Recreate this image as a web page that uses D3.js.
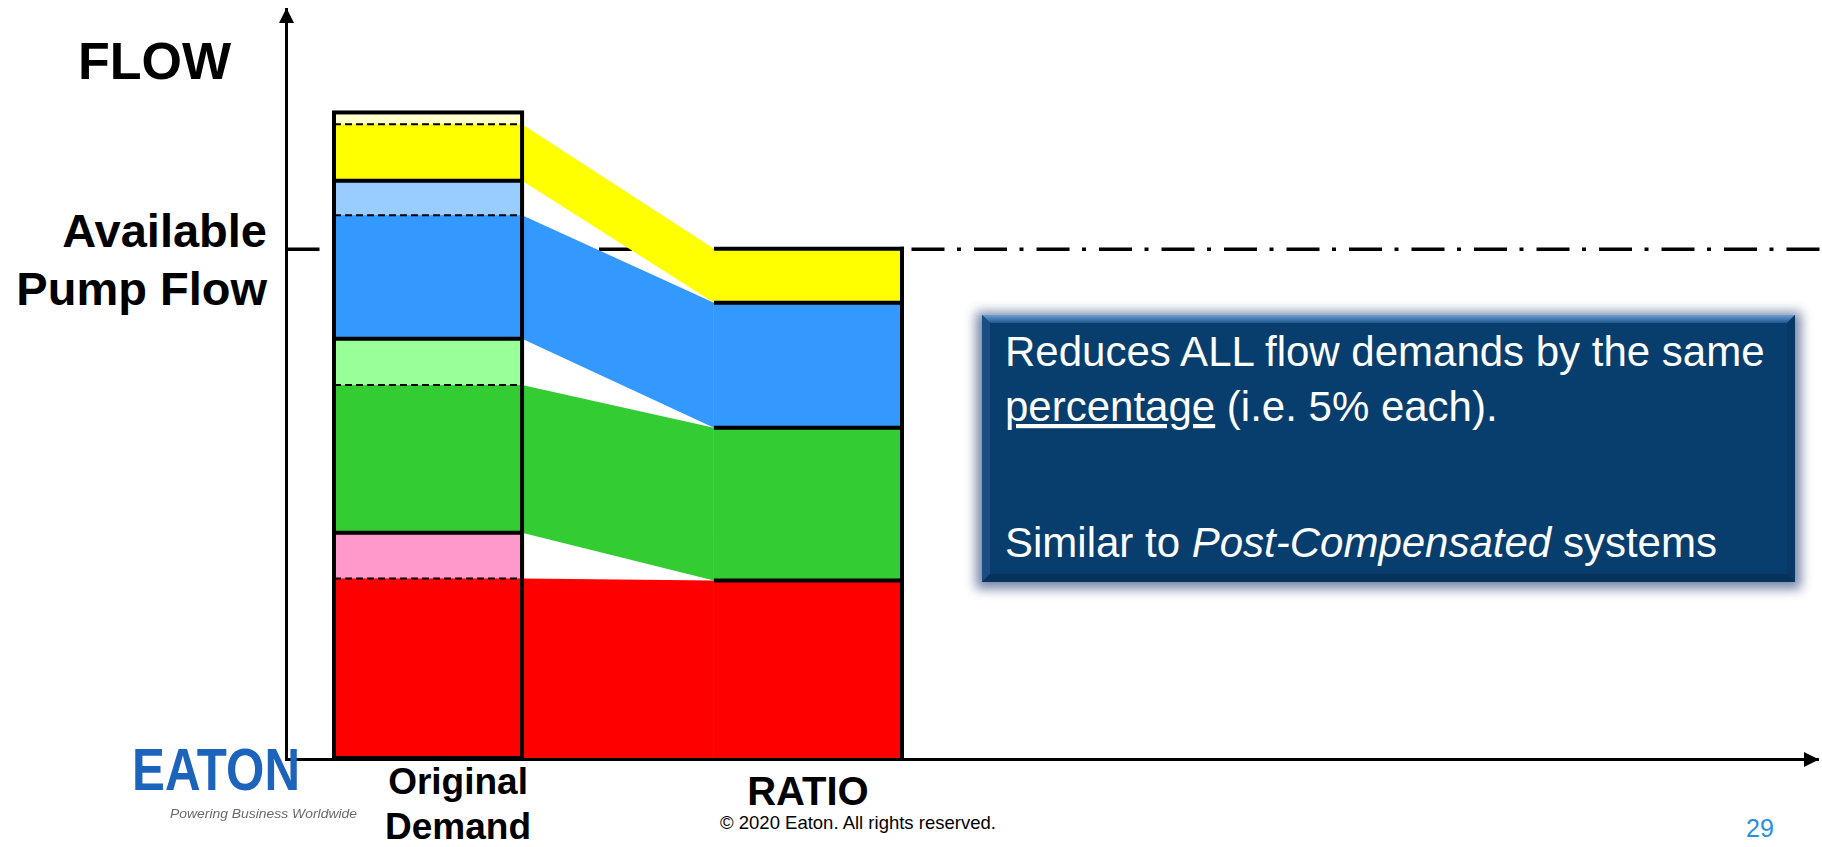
<!DOCTYPE html>
<html>
<head>
<meta charset="utf-8">
<script src="https://cdn.jsdelivr.net/npm/d3@7/dist/d3.min.js"></script>
<style>
  html, body { margin: 0; padding: 0; background: #ffffff; }
  svg { display: block; }
  text { font-family: "Liberation Sans", Arial, sans-serif; }
</style>
</head>
<body>
<svg id="chart" width="1822" height="847"></svg>
<script>
// Flow demands, stacked bottom-up: red, green, blue, yellow functions
const functions = ["Function A", "Function B", "Function C", "Function D"];
const columns = ["Original Demand", "RATIO"];
// Full original demand per function (flow units; available pump flow = 100)
const originalDemand = [44.3, 38.1, 31.1, 13.4];
// Part of each original demand that is carried over (below the dashed line)
const retainedDemand = [35.3, 29.0, 24.3, 11.1];
// Flow each function receives after ratio reduction
const ratioDemand = [34.9, 30.0, 24.6, 10.6];
const pumpFlow = 100;
const strongColors = ["#FF0000", "#33CC33", "#3399FF", "#FFFF00"];
const lightColors = ["#FF99CC", "#99FF99", "#99CCFF", "#FFFFCC"];
const pumpLabel = ["Available", "Pump Flow"];
const boxLines = [
  [{t: "Reduces ALL flow demands by the same"}],
  [{t: "percentage", u: true}, {t: " (i.e. 5% each)."}],
  [{t: "Similar to "}, {t: "Post-Compensated", i: true}, {t: " systems"}]
];

const svg = d3.select("#chart");
const axisX = 286.5, baseY = 758;

const y = d3.scaleLinear().domain([0, pumpFlow]).range([baseY, 249.3]);
const x = d3.scaleBand().domain(columns).range([334, 902]).paddingInner(0.505).paddingOuter(0);
const bw = x.bandwidth();

// cumulative bases
const origBase = [], ratioBase = [];
originalDemand.reduce((acc, v, i) => { origBase[i] = acc; return acc + v; }, 0);
ratioDemand.reduce((acc, v, i) => { ratioBase[i] = acc; return acc + v; }, 0);
const origTotal = d3.sum(originalDemand);

const defs = svg.append("defs");
defs.append("marker").attr("id", "arrow").attr("viewBox", "0 0 10 10")
  .attr("refX", 10).attr("refY", 5).attr("markerWidth", 5).attr("markerHeight", 5)
  .attr("markerUnits", "strokeWidth").attr("orient", "auto")
  .append("path").attr("d", "M0,0 L10,5 L0,10 Z").attr("fill", "#000");
const shadow = defs.append("filter").attr("id", "boxShadow")
  .attr("x", "-10%").attr("y", "-20%").attr("width", "120%").attr("height", "140%");
shadow.append("feGaussianBlur").attr("stdDeviation", 6);
const logoBlur = defs.append("filter").attr("id", "soft");
logoBlur.append("feGaussianBlur").attr("stdDeviation", 0.7);
const topBevel = defs.append("linearGradient").attr("id", "topBevel")
  .attr("x1", 0).attr("y1", 0).attr("x2", 0).attr("y2", 1);
topBevel.append("stop").attr("offset", 0).attr("stop-color", "#6C9FD0");
topBevel.append("stop").attr("offset", 1).attr("stop-color", "#1F5890");

// Available pump flow reference line (dash-dot), behind the bars
svg.append("line")
  .attr("x1", axisX).attr("x2", 1822)
  .attr("y1", y(pumpFlow)).attr("y2", y(pumpFlow))
  .attr("stroke", "#000").attr("stroke-width", 3.5)
  .attr("stroke-dasharray", "33 12.5 4 13");

// Flow bands from the retained part of each original demand to the ratio column
const band = d3.area().x(d => d.x).y0(d => d.y0).y1(d => d.y1);
const x0 = x(columns[0]) + bw, x1 = x(columns[1]);
svg.append("g").selectAll("path").data(functions).join("path")
  .attr("d", (f, i) => band([
    {x: x0, y0: y(origBase[i]), y1: y(origBase[i] + retainedDemand[i])},
    {x: x1, y0: y(ratioBase[i]), y1: y(ratioBase[i] + ratioDemand[i])}
  ]))
  .attr("fill", (f, i) => strongColors[i]);

// Original demand column
const orig = svg.append("g");
orig.selectAll("rect.light").data(functions).join("rect").attr("class", "light")
  .attr("x", x(columns[0])).attr("width", bw)
  .attr("y", (f, i) => y(origBase[i] + originalDemand[i]))
  .attr("height", (f, i) => y(origBase[i]) - y(origBase[i] + originalDemand[i]))
  .attr("fill", (f, i) => lightColors[i]);
orig.selectAll("rect.strong").data(functions).join("rect").attr("class", "strong")
  .attr("x", x(columns[0])).attr("width", bw)
  .attr("y", (f, i) => y(origBase[i] + retainedDemand[i]))
  .attr("height", (f, i) => y(origBase[i]) - y(origBase[i] + retainedDemand[i]))
  .attr("fill", (f, i) => strongColors[i]);
orig.selectAll("line.dash").data(functions).join("line").attr("class", "dash")
  .attr("x1", x(columns[0])).attr("x2", x(columns[0]) + bw)
  .attr("y1", (f, i) => y(origBase[i] + retainedDemand[i]))
  .attr("y2", (f, i) => y(origBase[i] + retainedDemand[i]))
  .attr("stroke", "#000").attr("stroke-width", 2).attr("stroke-dasharray", "7 4");
orig.selectAll("line.div").data(functions.slice(1)).join("line").attr("class", "div")
  .attr("x1", x(columns[0])).attr("x2", x(columns[0]) + bw)
  .attr("y1", (f, i) => y(origBase[i + 1])).attr("y2", (f, i) => y(origBase[i + 1]))
  .attr("stroke", "#000").attr("stroke-width", 4);
orig.append("rect")
  .attr("x", x(columns[0])).attr("width", bw)
  .attr("y", y(origTotal)).attr("height", y(0) - y(origTotal))
  .attr("fill", "none").attr("stroke", "#000").attr("stroke-width", 4);

// Ratio column
const ratio = svg.append("g");
ratio.selectAll("rect").data(functions).join("rect")
  .attr("x", x(columns[1])).attr("width", bw)
  .attr("y", (f, i) => y(ratioBase[i] + ratioDemand[i]))
  .attr("height", (f, i) => y(ratioBase[i]) - y(ratioBase[i] + ratioDemand[i]))
  .attr("fill", (f, i) => strongColors[i]);
ratio.selectAll("line.div").data(functions).join("line").attr("class", "div")
  .attr("x1", x(columns[1])).attr("x2", x(columns[1]) + bw + 2)
  .attr("y1", (f, i) => y(ratioBase[i] + ratioDemand[i]))
  .attr("y2", (f, i) => y(ratioBase[i] + ratioDemand[i]))
  .attr("stroke", "#000").attr("stroke-width", 4);
ratio.append("line")
  .attr("x1", x(columns[1]) + bw).attr("x2", x(columns[1]) + bw)
  .attr("y1", y(d3.sum(ratioDemand)) - 2).attr("y2", y(0))
  .attr("stroke", "#000").attr("stroke-width", 4);

// Axes with arrowheads
svg.append("line").attr("x1", axisX).attr("x2", axisX).attr("y1", baseY + 1.5).attr("y2", 8)
  .attr("stroke", "#000").attr("stroke-width", 3).attr("marker-end", "url(#arrow)");
svg.append("line").attr("x1", axisX - 1.5).attr("x2", 1819).attr("y1", baseY + 1.5).attr("y2", baseY + 1.5)
  .attr("stroke", "#000").attr("stroke-width", 3).attr("marker-end", "url(#arrow)");

// Axis titles
svg.append("text").attr("x", 78).attr("y", 79)
  .attr("font-size", 52).attr("font-weight", "bold").text("FLOW");
svg.append("text").attr("text-anchor", "end").attr("font-size", 47).attr("font-weight", "bold")
  .selectAll("tspan").data(pumpLabel).join("tspan")
  .attr("x", 267).attr("y", (d, i) => y(pumpFlow) - 2 + i * 58).text(d => d);

// Column labels
const colLabel = svg.append("g").attr("font-weight", "bold").attr("text-anchor", "middle");
colLabel.append("text").attr("font-size", 37)
  .selectAll("tspan").data(columns[0].split(" ")).join("tspan")
  .attr("x", x(columns[0]) + bw / 2 + 30).attr("y", (d, i) => 794 + i * 45).text(d => d);
colLabel.append("text").attr("font-size", 40)
  .attr("x", x(columns[1]) + bw / 2).attr("y", 805).text(columns[1]);

// Explanation box
const box = {x: 982, y: 315, w: 813, h: 267, b: 8};
const bx = svg.append("g");
bx.append("rect").attr("x", box.x - 6).attr("y", box.y - 3).attr("width", box.w + 12).attr("height", box.h + 10)
  .attr("fill", "#5E7199").attr("opacity", 0.85).attr("filter", "url(#boxShadow)");
bx.append("rect").attr("x", box.x).attr("y", box.y).attr("width", box.w).attr("height", box.h).attr("fill", "#073E6D");
const L = box.x, R = box.x + box.w, T = box.y, B = box.y + box.h, b = box.b;
bx.append("polygon").attr("points", [[L, T], [R, T], [R - b, T + b], [L + b, T + b]].join(" ")).attr("fill", "url(#topBevel)");
bx.append("polygon").attr("points", [[L, T], [L + b, T + b], [L + b, B - b], [L, B]].join(" ")).attr("fill", "#1A4E83");
bx.append("polygon").attr("points", [[R, T], [R - b, T + b], [R - b, B - b], [R, B]].join(" ")).attr("fill", "#0A3864");
bx.append("polygon").attr("points", [[L, B], [L + b, B - b], [R - b, B - b], [R, B]].join(" ")).attr("fill", "#06325C");
const lineY = [366, 421, 557];
bx.selectAll("text").data(boxLines).join("text")
  .attr("x", 1005).attr("y", (d, i) => lineY[i])
  .attr("font-size", 42).attr("fill", "#ffffff")
  .selectAll("tspan").data(d => d).join("tspan")
  .attr("font-style", d => d.i ? "italic" : null)
  .attr("text-decoration", d => d.u ? "underline" : null)
  .text(d => d.t);

// Footer
svg.append("text").attr("x", 720).attr("y", 829).attr("font-size", 18.5).attr("fill", "#000")
  .text("\u00A9 2020 Eaton. All rights reserved.");
svg.append("text").attr("x", 1760).attr("y", 837).attr("text-anchor", "middle")
  .attr("font-size", 25).attr("fill", "#2B8FE0").text("29");

// Logo
const logo = svg.append("g").attr("filter", "url(#soft)");
logo.append("text").attr("x", 132).attr("y", 790).attr("font-size", 60).attr("font-weight", "bold")
  .attr("fill", "#1F63BC").attr("textLength", 168).attr("lengthAdjust", "spacingAndGlyphs").text("EATON");
logo.append("text").attr("x", 170).attr("y", 818).attr("font-size", 13.5).attr("font-style", "italic")
  .attr("fill", "#6A6A6A").attr("textLength", 187).attr("lengthAdjust", "spacingAndGlyphs")
  .text("Powering Business Worldwide");
</script>
</body>
</html>
